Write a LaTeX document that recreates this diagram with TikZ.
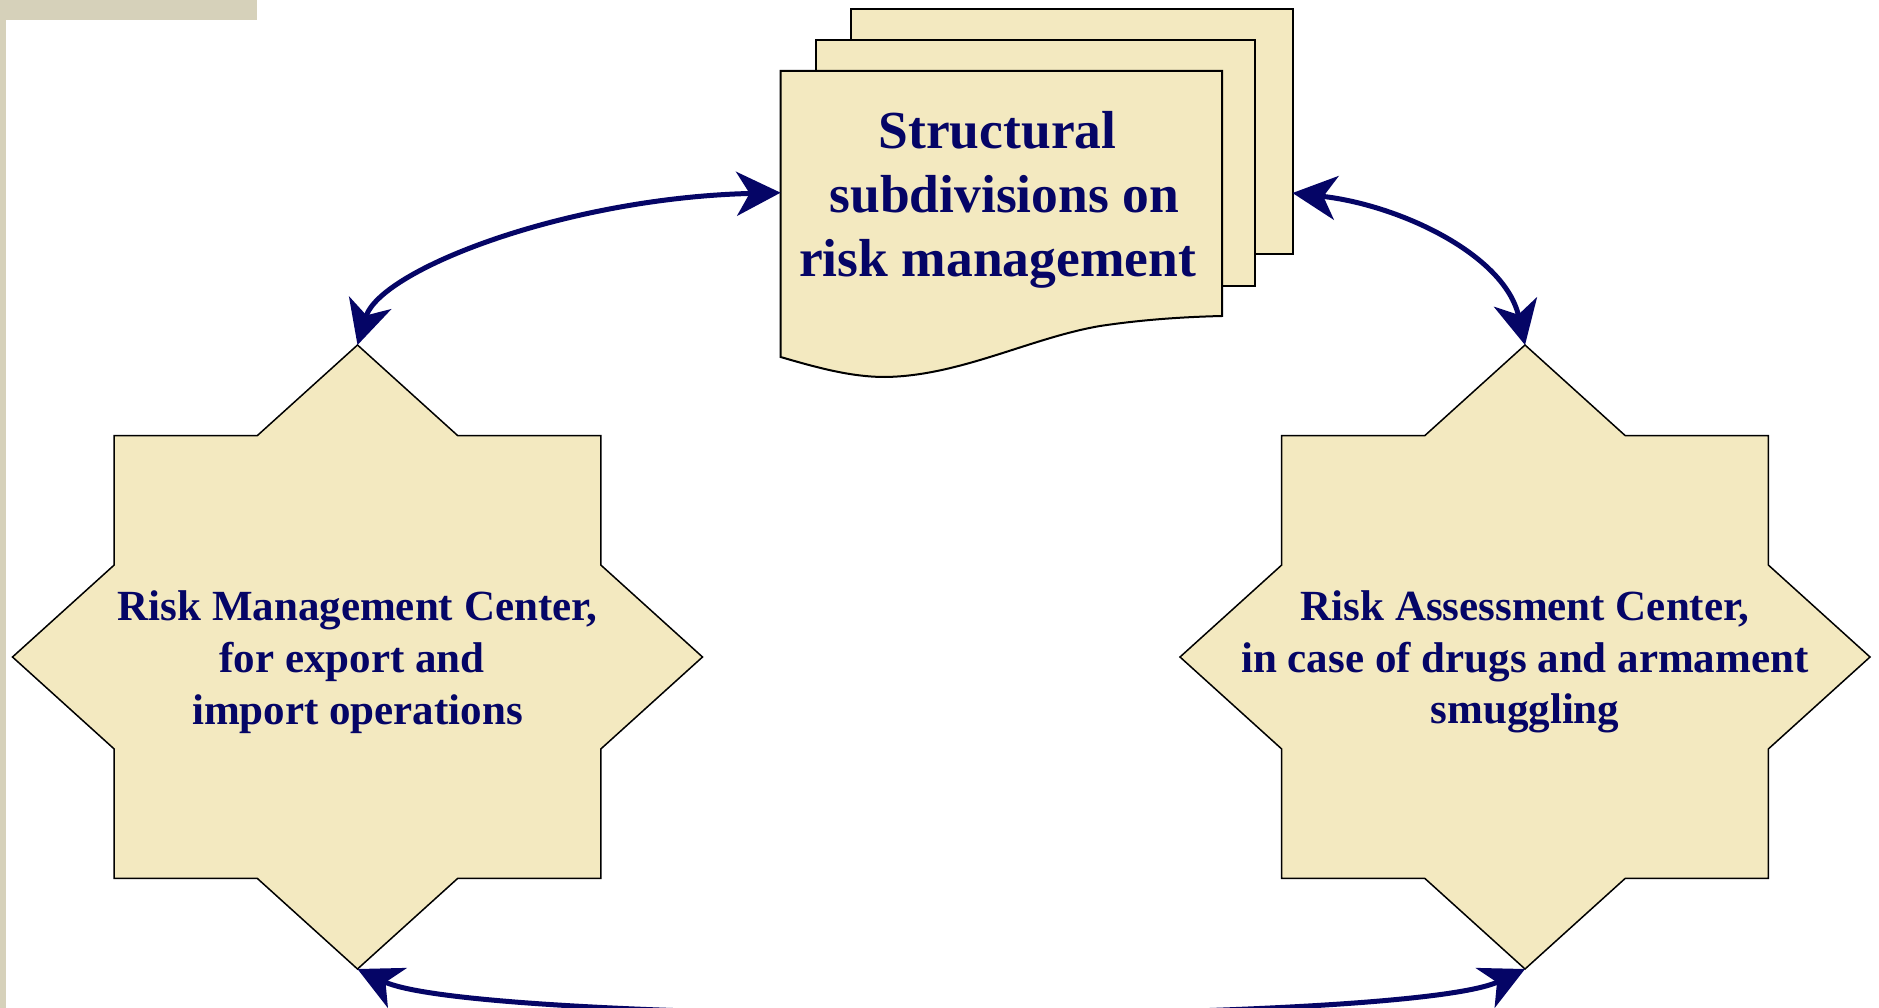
\documentclass[tikz,border=0pt]{standalone}
\usepackage{fontspec}
\setmainfont{Liberation Serif}
\usetikzlibrary{arrows.meta}
\definecolor{fillY}{RGB}{243,233,192}
\definecolor{navy}{RGB}{5,5,102}
\definecolor{frameG}{RGB}{214,209,186}
\begin{document}
\begin{tikzpicture}[x=1pt,y=-1pt,
  conn/.style={draw=navy, line width=5pt, {Stealth[length=44pt,width=44pt,inset=13pt]}-{Stealth[length=44pt,width=44pt,inset=13pt]}},
  page/.style={fill=fillY, draw=black, line width=2pt, line join=miter},
  starshape/.style={fill=fillY, draw=black, line width=1.5pt, line join=miter},
  lbl/.style={text=navy, font=\bfseries\fontsize{43}{51.7}\selectfont, align=center, inner sep=0pt},
  doclbl/.style={text=navy, font=\bfseries\fontsize{53.5}{64}\selectfont, align=center, inner sep=0pt}]
\useasboundingbox (0,0) rectangle (1879,1008);
\clip (0,0) rectangle (1879,1008);
\fill[white] (0,0) rectangle (1879,1008);
% frame strips
\fill[frameG] (0,0) rectangle (257,20);
\fill[frameG] (0,0) rectangle (6,1008);
% document stack
\path[page] (851,9) rectangle (1292.5,254);
\path[page] (816,40) rectangle (1255,286);
\path[page] (780.6,71) -- (1222,71) -- (1222,316)
  .. controls (1180,317) and (1140,320) .. (1100,326)
  .. controls (1030,338) and (960,376) .. (885,377)
  .. controls (850,377) and (815,367) .. (780.6,357) -- cycle;
\node[doclbl] (doctext) at (997.5,200) {Structural\\\hspace*{0.25em}subdivisions on\\risk management};
% stars
\foreach \cx in {357.5,1525}{
\path[starshape, shift={(\cx,657)}] (0,-312) -- (100.3,-221.3) -- (243.3,-221.3) -- (243.3,-92) -- (345,0) -- (243.3,92) -- (243.3,221.3) -- (100.3,221.3) -- (0,312) -- (-100.3,221.3) -- (-243.3,221.3) -- (-243.3,92) -- (-345,0) -- (-243.3,-92) -- (-243.3,-221.3) -- (-100.3,-221.3) -- cycle;
}
\node[lbl] (ltext) at (357.5,662) {Risk Management Center,\\for export and\hbox to 0.25em{}\\import operations};
\node[lbl] (rtext) at (1525,662) {Risk Assessment Center,\\in case of drugs and armament\\smuggling};
% anchor coordinates
\coordinate (lstarN) at (357.5,345);
\coordinate (rstarN) at (1525,345);
\coordinate (lstarS) at (357.5,969);
\coordinate (rstarS) at (1525,969);
\coordinate (docW) at (780.6,192.7);
\coordinate (docE) at (1292.5,193);
% connectors
\draw[conn] (lstarN) .. controls (380,270) and (565,198) .. (docW);
\draw[conn] (docE) .. controls (1400,205) and (1505,255) .. (rstarN);
\draw[conn] (lstarS) .. controls (477.5,1026) and (1405,1026) .. (rstarS);
\end{tikzpicture}
\end{document}
